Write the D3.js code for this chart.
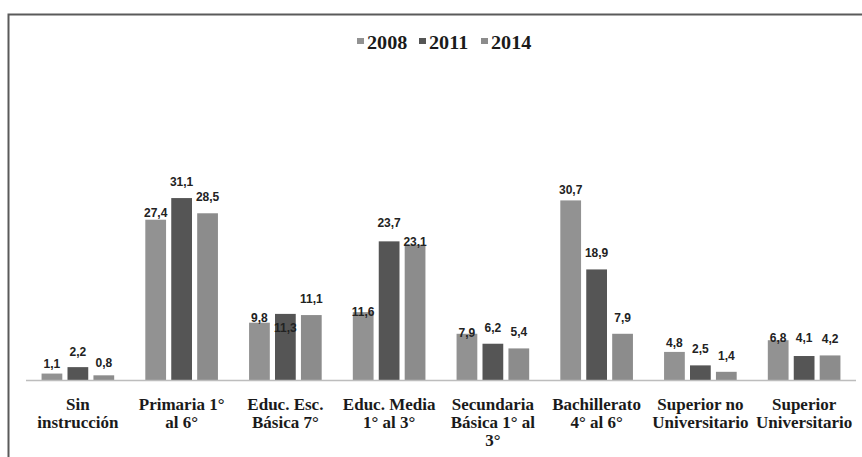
<!DOCTYPE html>
<html>
<head>
<meta charset="utf-8">
<script src="https://cdn.jsdelivr.net/npm/d3@7"></script>
<style>
  body { margin: 0; background: #fff; }
  svg { display: block; }
</style>
</head>
<body>
<div id="chart"></div>
<script>
const width = 862;
const height = 457;

// data
const categories = [
    ["Sin", "instrucción"],
    ["Primaria 1°", "al 6°"],
    ["Educ. Esc.", "Básica 7°"],
    ["Educ. Media", "1° al 3°"],
    ["Secundaria", "Básica 1° al", "3°"],
    ["Bachillerato", "4° al 6°"],
    ["Superior no", "Universitario"],
    ["Superior", "Universitario"]
];
const years = ["2008", "2011", "2014"];
const values2008 = [1.1, 27.4, 9.8, 11.6, 7.9, 30.7, 4.8, 6.8];
const values2011 = [2.2, 31.1, 11.3, 23.7, 6.2, 18.9, 2.5, 4.1];
const values2014 = [0.8, 28.5, 11.1, 23.1, 5.4, 7.9, 1.4, 4.2];

// label nudges (px, downward) to mimic the original's placement
const nudge2008 = [6, 9, 11, 16, 15, 6, 7, 14];
const nudge2011 = [1, 0, 30, -2, 0, 0, 0, -2];
const nudge2014 = [4, 0, 0, 13, 0, 0, 0, 0];

const colors = ["#929292", "#555555", "#8c8c8c"];

const series = [values2008, values2011, values2014];
const nudges = [nudge2008, nudge2011, nudge2014];

const svg = d3.select("#chart")
    .append("svg")
    .attr("width", width)
    .attr("height", height);

// outer frame (left and top edges visible only)
svg.append("rect")
    .attr("x", 8.5)
    .attr("y", 14.5)
    .attr("width", width)
    .attr("height", height)
    .attr("fill", "none")
    .attr("stroke", "#5a5a5a")
    .attr("stroke-width", 2);

const x0 = d3.scaleBand()
    .domain(d3.range(categories.length))
    .range([26, 856])
    .paddingInner(0.3)
    .paddingOuter(0.15);

const x1 = d3.scaleBand()
    .domain(years)
    .range([0, x0.bandwidth()])
    .paddingInner(0.2);

const y = d3.scaleLinear()
    .domain([0, 35])
    .range([380, 380 - 35 * 5.85]);

const groups = svg.append("g")
    .selectAll("g")
    .data(categories)
    .enter()
    .append("g")
    .attr("transform", (d, i) => `translate(${x0(i)},0)`);

const bars = groups.selectAll("rect")
    .data((d, i) => years.map((yr, k) => ({ yr, k, v: series[k][i], n: nudges[k][i] })))
    .enter();

bars.append("rect")
    .attr("x", d => x1(d.yr))
    .attr("y", d => y(d.v))
    .attr("width", x1.bandwidth())
    .attr("height", d => y(0) - y(d.v))
    .attr("fill", d => colors[d.k]);

// baseline
svg.append("line")
    .attr("x1", 26)
    .attr("x2", 856)
    .attr("y1", y(0) + 0.5)
    .attr("y2", y(0) + 0.5)
    .attr("stroke", "#bdbdbd")
    .attr("stroke-width", 1.5);

bars.append("text")
    .attr("x", d => x1(d.yr) + x1.bandwidth() / 2)
    .attr("y", d => y(d.v) - 12 + d.n)
    .attr("text-anchor", "middle")
    .attr("font-family", "Liberation Sans, Arial, sans-serif")
    .attr("font-weight", "bold")
    .attr("font-size", "12px")
    .attr("fill", "#222")
    .text(d => d3.format(".1f")(d.v).replace(".", ","));

// category labels
const catLabels = svg.append("g")
    .selectAll("text")
    .data(categories)
    .enter()
    .append("text")
    .attr("x", (d, i) => x0(i) + x0.bandwidth() / 2)
    .attr("y", 410)
    .attr("text-anchor", "middle")
    .attr("font-family", "Liberation Serif, Times New Roman, serif")
    .attr("font-weight", "bold")
    .attr("font-size", "17px")
    .attr("fill", "#1a1a1a");

catLabels.selectAll("tspan")
    .data(d => d)
    .enter()
    .append("tspan")
    .attr("x", function() { return d3.select(this.parentNode).attr("x"); })
    .attr("dy", (d, i) => i === 0 ? 0 : 18)
    .text(d => d);

// legend
const legend = svg.append("g")
    .selectAll("g")
    .data(years)
    .enter()
    .append("g")
    .attr("transform", (d, i) => `translate(${357 + i * 62},0)`);

legend.append("rect")
    .attr("x", 0)
    .attr("y", 38)
    .attr("width", 7)
    .attr("height", 6)
    .attr("fill", (d, i) => colors[i]);

legend.append("text")
    .attr("transform", "translate(10,49) scale(1.12,1)")
    .attr("font-family", "Liberation Serif, Times New Roman, serif")
    .attr("font-weight", "bold")
    .attr("font-size", "18px")
    .attr("fill", "#1a1a1a")
    .text(d => d);
</script>
</body>
</html>
